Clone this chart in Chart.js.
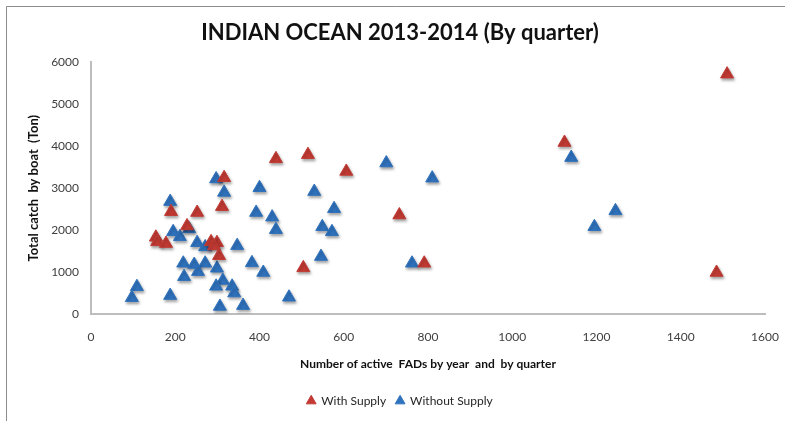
<!DOCTYPE html>
<html>
<head>
<meta charset="utf-8">
<script src="https://cdn.jsdelivr.net/npm/chart.js@4.4.1/dist/chart.umd.min.js"></script>
<style>
  html, body { margin: 0; padding: 0; background: #fff; }
</style>
</head>
<body>
<canvas id="grafico" width="785" height="421"></canvas>
<script>
// Datos (FADs activos vs captura por barco)
const conSuministroX = [1510, 1124, 1485, 732, 791, 606, 439, 515, 504, 316, 311, 252, 190, 228, 154, 157, 178, 285, 299, 292, 304];
const conSuministroY = [5720, 4090, 990, 2360, 1210, 3400, 3700, 3800, 1100, 3250, 2560, 2420, 2440, 2100, 1830, 1720, 1680, 1720, 1700, 1620, 1390];

const sinSuministroX = [1140, 810, 1245, 1195, 762, 701, 400, 530, 577, 392, 430, 439, 549, 572, 546, 409, 470, 297, 316, 188,
  195, 211, 233, 252, 271, 347, 219, 245, 271, 299, 221, 254, 382, 313, 297, 335, 340, 306, 361, 109, 97, 188];
const sinSuministroY = [3730, 3240, 2460, 2080, 1210, 3600, 3010, 2920, 2510, 2420, 2310, 2010, 2080, 1960, 1370, 990, 400, 3220, 2900, 2680,
  1960, 1840, 2030, 1700, 1600, 1630, 1210, 1180, 1210, 1090, 890, 1010, 1220, 800, 660, 660, 500, 180, 200, 650, 390, 440];

const ticksX = [0, 200, 400, 600, 800, 1000, 1200, 1400, 1600];
const ticksY = [0, 1000, 2000, 3000, 4000, 5000, 6000];

const series = ['With Supply', 'Without Supply'];
const colores = ['#c23a33', '#2f72bd'];

// arma los pares {x, y} para Chart.js
const armarPuntos = (xs, ys) => xs.map((x, i) => ({ x: x, y: ys[i] }));

// marco gris (izquierda y arriba) + sombra de los marcadores
const marco = {
  id: 'marco',
  beforeDraw(chart) {
    const c = chart.ctx;
    c.save();
    c.fillStyle = '#fff';
    c.fillRect(0, 0, chart.width, chart.height);
    c.strokeStyle = '#8c8c8c';
    c.lineWidth = 1;
    c.beginPath();
    c.moveTo(6.5, chart.height);
    c.lineTo(6.5, 6.5);
    c.lineTo(chart.width, 6.5);
    c.stroke();
    c.restore();
  },
  beforeDatasetsDraw(chart) {
    const c = chart.ctx;
    c.save();
    c.shadowColor = 'rgba(0,0,0,0.35)';
    c.shadowBlur = 3;
    c.shadowOffsetX = 1;
    c.shadowOffsetY = 2;
  },
  afterDatasetsDraw(chart) {
    chart.ctx.restore();
  }
};

Chart.defaults.font.family = 'Lato, "Open Sans", sans-serif';
Chart.defaults.color = '#404040';

new Chart(document.getElementById('grafico').getContext('2d'), {
  type: 'scatter',
  data: {
    datasets: [
      {
        label: series[0],
        data: armarPuntos(conSuministroX, conSuministroY),
        pointStyle: 'triangle',
        pointRadius: 7.5,
        pointHoverRadius: 7.5,
        backgroundColor: colores[0],
        borderColor: colores[0],
        borderWidth: 1
      },
      {
        label: series[1],
        data: armarPuntos(sinSuministroX, sinSuministroY),
        pointStyle: 'triangle',
        pointRadius: 7.5,
        pointHoverRadius: 7.5,
        backgroundColor: colores[1],
        borderColor: colores[1],
        borderWidth: 1
      }
    ]
  },
  options: {
    responsive: false,
    animation: false,
    // el padding izquierdo centra título y leyenda como en el original
    layout: { padding: { left: 35, right: 20, top: 0, bottom: 4 } },
    plugins: {
      tooltip: { enabled: false },
      title: {
        display: true,
        text: 'INDIAN OCEAN 2013-2014 (By quarter)',
        color: '#111',
        font: { size: 22, weight: 'bold' },
        padding: { top: 20, bottom: 16 }
      },
      legend: {
        position: 'bottom',
        labels: {
          usePointStyle: true,
          boxWidth: 8,
          boxHeight: 8,
          font: { size: 12 },
          color: '#262626',
          padding: 10
        }
      }
    },
    scales: {
      x: {
        type: 'linear',
        min: 0,
        max: 1600,
        afterBuildTicks: (s) => { s.ticks = ticksX.map(v => ({ value: v })); },
        afterFit: (s) => { s.height = 71; },
        grid: { display: false, drawTicks: true, tickLength: 16 },
        border: { display: true, color: '#bdbdbd', width: 2 },
        ticks: { padding: 0, font: { size: 12 }, callback: (v) => String(v) },
        title: {
          display: true,
          text: 'Number of active  FADs by year  and  by quarter',
          color: '#111',
          font: { size: 12, weight: 'bold' },
          padding: { top: 0, bottom: 14 }
        }
      },
      y: {
        min: 0,
        max: 6000,
        afterBuildTicks: (s) => { s.ticks = ticksY.map(v => ({ value: v })); },
        afterFit: (s) => { s.width = 56; },
        grid: { display: false, drawTicks: true, tickLength: 12 },
        border: { display: true, color: '#bdbdbd', width: 2 },
        ticks: { padding: 0, font: { size: 12 }, callback: (v) => String(v) },
        title: {
          display: true,
          text: 'Total catch  by boat  (Ton)',
          color: '#111',
          font: { size: 13, weight: 'bold' },
          padding: { top: -9, bottom: 0 }
        }
      }
    }
  },
  plugins: [marco]
});
</script>
</body>
</html>
